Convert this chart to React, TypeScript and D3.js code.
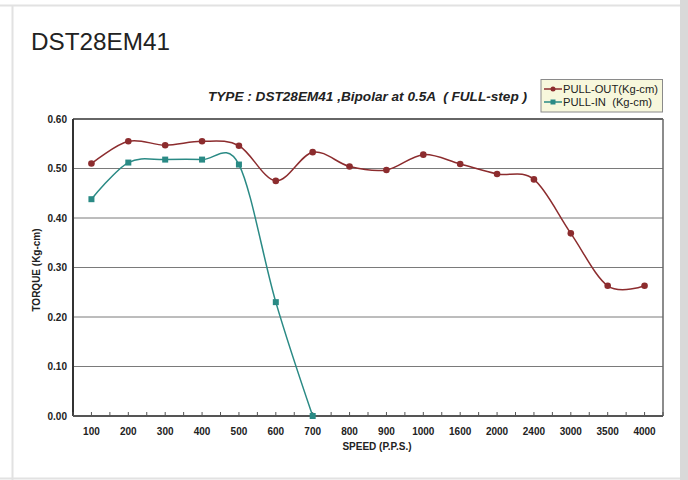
import React from "react";
import * as d3 from "d3";

const speeds = ["100","200","300","400","500","600","700","800","900","1000","1600","2000","2400","3000","3500","4000"];
const pullOut = [0.51,0.555,0.547,0.555,0.546,0.475,0.533,0.504,0.497,0.528,0.509,0.489,0.478,0.369,0.263,0.263];
const pullInSpeeds = ["100","200","300","400","500","600","700"];
const pullIn = [0.438,0.512,0.518,0.518,0.508,0.23,0.0];
const yTicks = [0,0.1,0.2,0.3,0.4,0.5,0.6];

const FONT = "'Liberation Sans', Arial, sans-serif";
const RED = "#8c2c2e";
const TEAL = "#2a8a85";

export default function App() {
  const L = 73, R = 663, T = 119, B = 416;
  const x = d3.scaleBand<string>().domain(speeds).range([L, R]);
  const bw = x.bandwidth();
  const cx = (s: string) => (x(s) as number) + bw / 2;
  const y = d3.scaleLinear().domain([0, 0.6]).range([B, T]);
  const line = d3.line<[number, number]>().x(d => d[0]).y(d => d[1]).curve(d3.curveCatmullRom.alpha(0));
  const outPts: [number, number][] = speeds.map((s, i) => [cx(s), y(pullOut[i])]);
  const inPts: [number, number][] = pullInSpeeds.map((s, i) => [cx(s), y(pullIn[i])]);
  const tickXs: number[] = [];
  speeds.forEach(s => { tickXs.push(x(s) as number); tickXs.push(cx(s)); });
  tickXs.push(R);

  return (
    <svg width={688} height={480} style={{ position: "absolute", left: 0, top: 0, fontFamily: FONT }}>
      <rect x={0} y={0} width={688} height={480} fill="#ffffff" />
      <rect x={680} y={0} width={8} height={480} fill="#d9d9d9" />
      <line x1={0} x2={680} y1={5.5} y2={5.5} stroke="#e2e2e2" strokeWidth={2} />
      <line x1={12.5} x2={12.5} y1={5} y2={480} stroke="#e2e2e2" strokeWidth={2} />
      <line x1={0} x2={680} y1={478.5} y2={478.5} stroke="#e2e2e2" strokeWidth={2} />
      <text x={31} y={50} fontSize={24} fill="#222" textLength={139} lengthAdjust="spacingAndGlyphs">DST28EM41</text>
      <text x={208} y={101} fontSize={12.5} fontWeight="bold" fontStyle="italic" fill="#222" textLength={319} lengthAdjust="spacingAndGlyphs" style={{ whiteSpace: "pre" }}>TYPE : DST28EM41 ,Bipolar at 0.5A  ( FULL-step )</text>

      {yTicks.map(t => (
        <g key={t}>
          {t > 0 && t < 0.6 && <line x1={L} x2={R} y1={y(t)} y2={y(t)} stroke="#7a7a7a" strokeWidth={1} />}
          <text x={67} y={y(t) + 3.5} fontSize={10} fontWeight="bold" textAnchor="end" fill="#222">{t.toFixed(2)}</text>
        </g>
      ))}
      <line x1={L} x2={R} y1={T} y2={T} stroke="#333" strokeWidth={1.5} />
      <line x1={R} x2={R} y1={T} y2={B} stroke="#666" strokeWidth={1.5} />
      <line x1={L} x2={L} y1={T} y2={B} stroke="#333" strokeWidth={2} />
      <line x1={L} x2={R} y1={B} y2={B} stroke="#555" strokeWidth={2} />
      {tickXs.map((tx, i) => (
        <line key={i} x1={tx} x2={tx} y1={B} y2={B - 4} stroke="#555" strokeWidth={1} />
      ))}
      {speeds.map(s => (
        <text key={s} x={cx(s)} y={435} fontSize={10} fontWeight="bold" textAnchor="middle" fill="#222">{s}</text>
      ))}
      <text x={377} y={450} fontSize={10} fontWeight="bold" textAnchor="middle" fill="#222">SPEED (P.P.S.)</text>
      <text transform="translate(40,270) rotate(-90)" fontSize={10} fontWeight="bold" textAnchor="middle" fill="#222">TORQUE (Kg-cm)</text>

      <path d={line(outPts) || ""} fill="none" stroke={RED} strokeWidth={1.5} />
      {outPts.map((p, i) => <circle key={i} cx={p[0]} cy={p[1]} r={3.3} fill={RED} />)}
      <path d={line(inPts) || ""} fill="none" stroke={TEAL} strokeWidth={1.5} />
      {inPts.map((p, i) => <rect key={i} x={p[0] - 3} y={p[1] - 3} width={6} height={6} fill={TEAL} />)}

      <rect x={541} y={79.5} width={121.5} height={32.5} fill="#f7f7dc" stroke="#8a8a8a" strokeWidth={1} />
      <line x1={544} x2={562} y1={89} y2={89} stroke={RED} strokeWidth={1.5} />
      <circle cx={553} cy={89} r={2.5} fill={RED} />
      <text x={563} y={93} fontSize={11} fill="#222" textLength={95} lengthAdjust="spacingAndGlyphs">PULL-OUT(Kg-cm)</text>
      <line x1={544} x2={562} y1={102} y2={102} stroke={TEAL} strokeWidth={1.5} />
      <rect x={550.5} y={99.5} width={5} height={5} fill={TEAL} />
      <text x={563} y={106} fontSize={11} fill="#222" textLength={89} lengthAdjust="spacingAndGlyphs" style={{ whiteSpace: "pre" }}>PULL-IN  (Kg-cm)</text>
    </svg>
  );
}
